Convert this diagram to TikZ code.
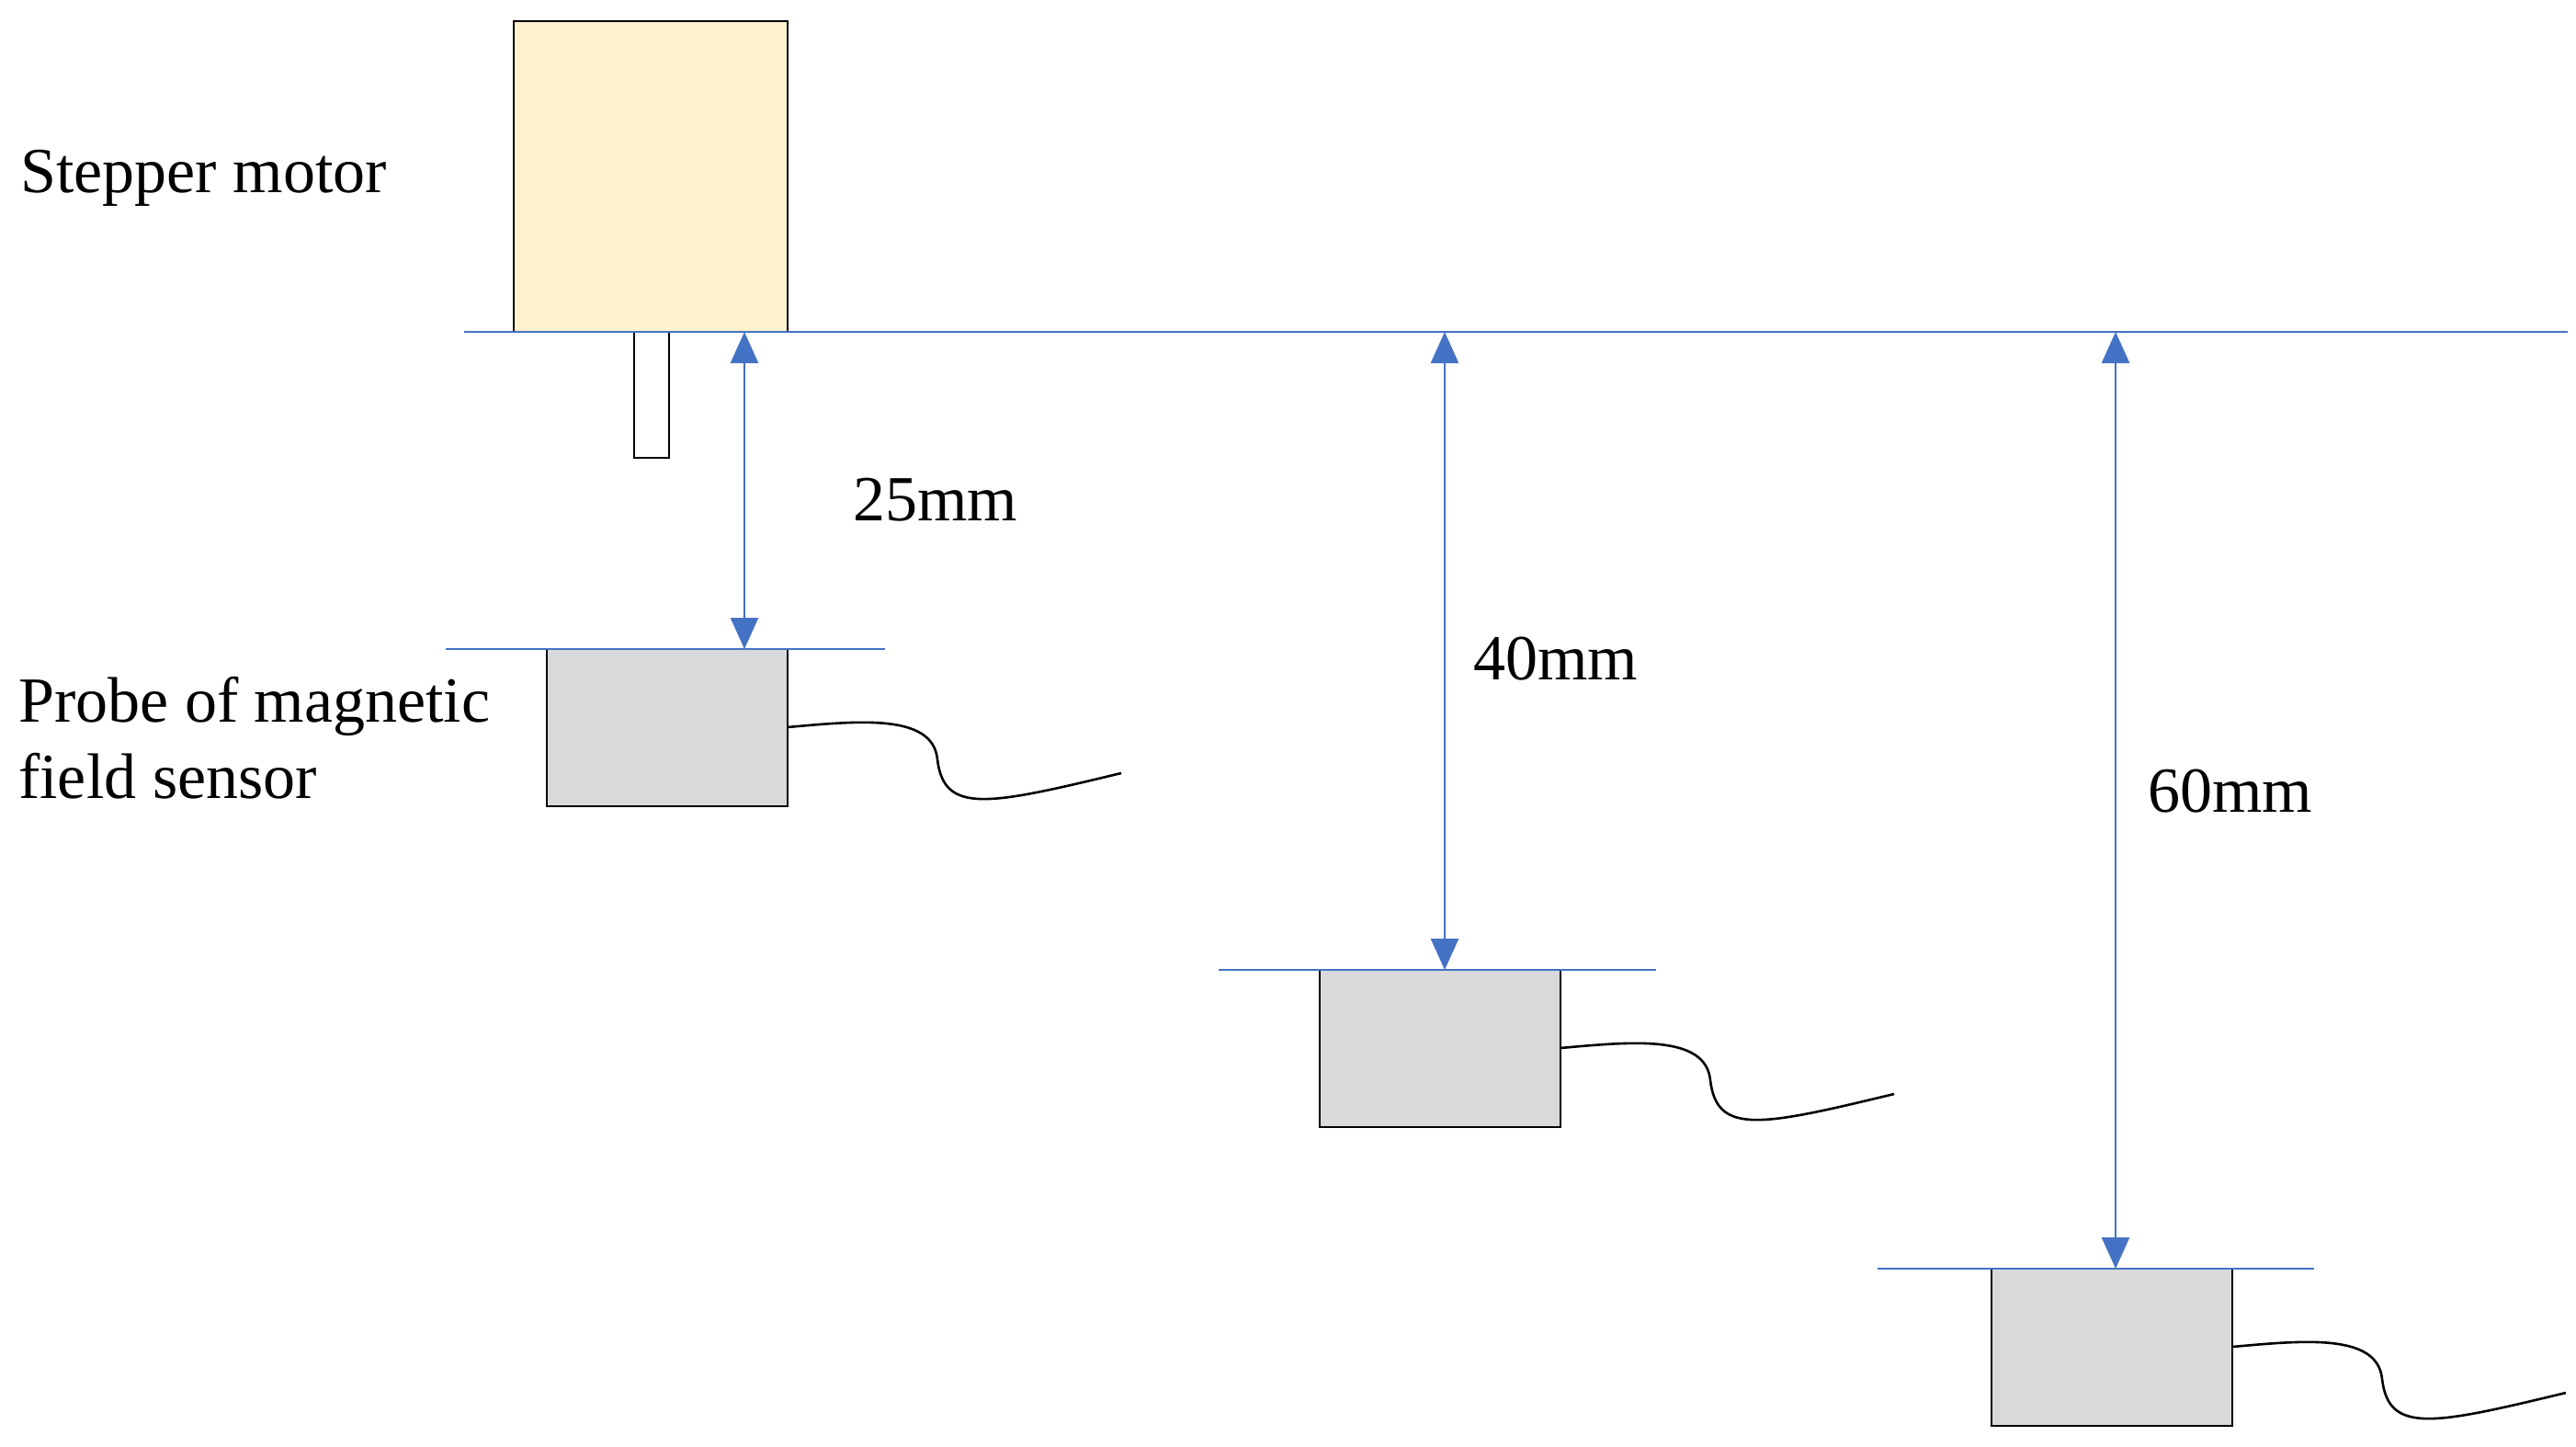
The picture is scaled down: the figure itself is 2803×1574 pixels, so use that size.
\documentclass[tikz,border=0pt]{standalone}
\usepackage{fontspec}
\setmainfont{Liberation Serif}
\usetikzlibrary{arrows.meta}
\definecolor{lb}{HTML}{4472C4}
\definecolor{motor}{HTML}{FFF2CC}
\definecolor{probe}{HTML}{D9D9D9}
\begin{document}
\begin{tikzpicture}[x=1pt,y=-1pt,
  blue line/.style={draw=lb,line width=2.6pt},
  dim/.style={draw=lb,line width=2.6pt,{Triangle[length=34pt,width=30pt]}-{Triangle[length=34pt,width=30pt]}},
  box/.style={draw=black,line width=2.6pt},
  cable/.style={draw=black,line width=2.6pt},
  lbl/.style={font=\fontsize{70}{83}\selectfont,inner sep=0pt,anchor=west,align=left}]
\useasboundingbox (0,0) rectangle (2803,1574);
% motor
\draw[box,fill=motor] (559,23) rectangle (857,361);
\draw[box,fill=white] (690,361) rectangle (728,498);
\draw[blue line] (505,361) -- (2794,361);
\coordinate (top1) at (810,361);
\coordinate (top2) at (1572,361);
\coordinate (top3) at (2302,361);
% probes
\foreach \i/\lx/\rx/\y/\bx in {1/485/963/706/595, 2/1326/1802/1055/1436, 3/2043/2518/1380/2167}{
  \draw[box,fill=probe] (\bx,\y) rectangle ++(262,171);
  \draw[blue line] (\lx,\y) -- (\rx,\y);
  \draw[cable] (\bx+262,\y+85) .. controls (\bx+340,\y+78) and (\bx+420,\y+70) .. (\bx+425,\y+120)
     .. controls (\bx+432,\y+180) and (\bx+480,\y+170) .. (\bx+625,\y+135);
}
\coordinate (b1) at (810,706);
\coordinate (b2) at (1572,1055);
\coordinate (b3) at (2302,1380);
\draw[dim] (top1) -- (b1);
\draw[dim] (top2) -- (b2);
\draw[dim] (top3) -- (b3);
\node[lbl] (t25) at (928,544) {25mm};
\node[lbl] (t40) at (1603,717) {40mm};
\node[lbl] (t60) at (2337,861) {60mm};
\node[lbl] (sm) at (22,194) {Stepper motor};
\node[lbl,anchor=north west] (pr) at (20,736) {Probe of magnetic\\field sensor};
\end{tikzpicture}
\end{document}
